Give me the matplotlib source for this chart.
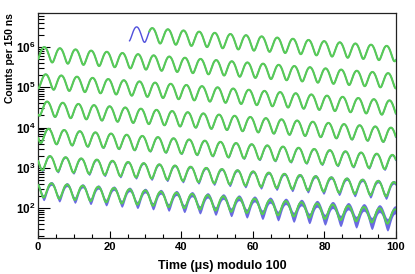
import numpy as np
import matplotlib
matplotlib.use("Agg")
import matplotlib.pyplot as plt
from matplotlib.ticker import MultipleLocator, LogLocator, FuncFormatter, NullFormatter

plt.rcParams['font.family'] = ['Liberation Sans', 'DejaVu Sans']
plt.rcParams['mathtext.fontset'] = 'custom'
plt.rcParams['mathtext.rm'] = 'Liberation Sans'
plt.rcParams['mathtext.bf'] = 'Liberation Sans:bold'

# fit parameters (times in us)
N0 = 3.46e6          # counts per 150 ns bin at t = 0
TAU = 64.4           # dilated muon lifetime
ASYM = 0.4           # wiggle asymmetry
PERIOD = 4.365       # g-2 precession period
T_PEAK = 1.38        # time of first maximum
BIN = 0.15           # bin width

DATA_START = 25.5    # first data bin
FIT_START = 31.0     # start of fit range
WRAP = 100.0
ROWS = [0, 100, 200, 300, 400, 500, 600]

ERR_SCALE = 2.2      # width of the blue scatter band, in sigma

BLUE = '#5050dc'
GREEN = '#58cc55'


def counts(t):
    return N0 * np.exp(-t / TAU) * (1 + ASYM * np.cos(2 * np.pi * (t - T_PEAK) / PERIOD))


fig = plt.figure(figsize=(4.15, 2.74), dpi=100)
ax = fig.add_axes([38 / 415, 1 - 238 / 274, 358 / 415, 225 / 274])

for r0 in ROWS:
    # data (blue) with its statistical scatter
    lo = max(r0, DATA_START)
    tb = np.arange(lo + BIN / 2, r0 + WRAP, BIN)
    tb = np.append(tb, r0 + WRAP)
    nb = counts(tb)
    ax.fill_between(tb - r0, nb - ERR_SCALE * np.sqrt(nb), nb + ERR_SCALE * np.sqrt(nb),
                    color=BLUE, lw=0, alpha=0.85, zorder=2)
    ax.plot(tb - r0, nb, color=BLUE, lw=1.0, zorder=2)

    # fit (green)
    lo = max(r0, FIT_START)
    tf = np.linspace(lo, r0 + WRAP, 2000)
    ax.plot(tf - r0, counts(tf), color=GREEN, lw=1.5, zorder=3, solid_capstyle='butt')

ax.set_yscale('log')
ax.set_xlim(0, 100)
ax.set_ylim(18, 7e6)

ax.xaxis.set_major_locator(MultipleLocator(20))
ax.xaxis.set_minor_locator(MultipleLocator(5))
ax.yaxis.set_major_locator(LogLocator(base=10, numticks=20))
ax.yaxis.set_minor_locator(LogLocator(base=10, subs=np.arange(2, 10), numticks=50))
ax.yaxis.set_minor_formatter(NullFormatter())
ax.yaxis.set_major_formatter(FuncFormatter(
    lambda v, p: r'$\mathbf{10^{%d}}$' % round(np.log10(v))))

ax.tick_params(axis='x', which='major', direction='in', length=5, width=0.8,
               top=False, pad=3, labelsize=8)
ax.tick_params(axis='x', which='minor', direction='in', length=2.9, width=0.8, top=False)
ax.tick_params(axis='y', which='major', direction='in', length=8.6, width=0.8,
               right=False, pad=2, labelsize=8.5)
ax.tick_params(axis='y', which='minor', direction='in', length=4.3, width=0.8, right=False)
for lab in ax.get_xticklabels():
    lab.set_fontweight('bold')

for sp in ax.spines.values():
    sp.set_linewidth(0.9)
    sp.set_color('#222222')

ax.set_xlabel('Time (\u03bcs) modulo 100', fontsize=9, fontweight='bold', va='top')
ax.xaxis.set_label_coords(0.514, -0.098)
ax.set_ylabel('Counts per 150 ns', fontsize=7.5, fontweight='bold', loc='top')
ax.yaxis.set_label_coords(-0.065, 1.0)

fig.savefig('out.png', dpi=100)
